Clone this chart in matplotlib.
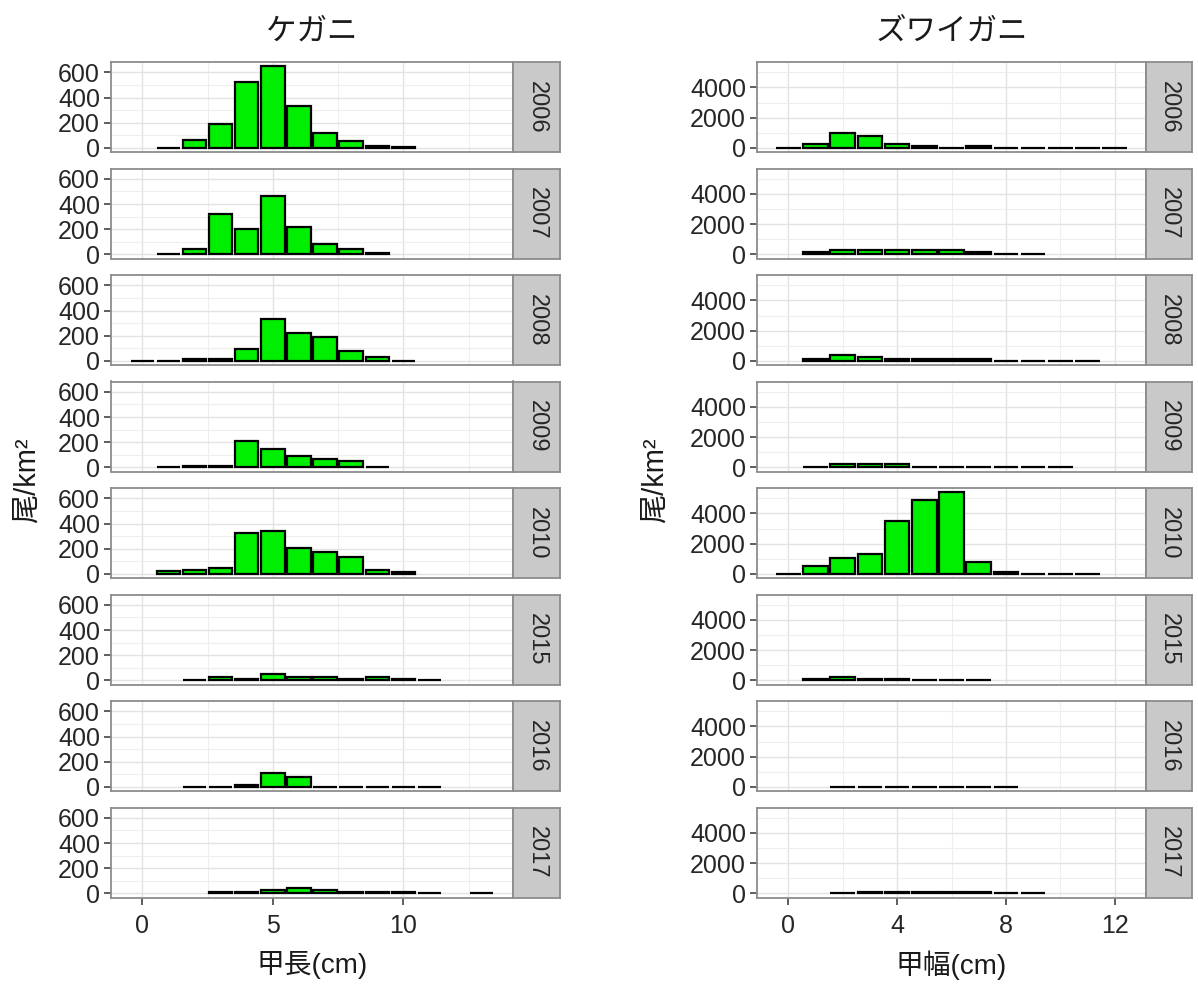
import matplotlib
matplotlib.use("Agg")
import matplotlib.pyplot as plt

# font list: Liberation for digits/latin, Noto CJK for the Japanese
plt.rcParams['font.family'] = ['Liberation Sans', 'Noto Sans CJK JP']

years = ['2006', '2007', '2008', '2009', '2010', '2015', '2016', '2017']

# ケガニ: 甲長 classes 0..13 cm, density per km2 (None = no bar)
kegani_sizes = list(range(14))
kegani = [
    [None, 2, 65, 191, 521, 650, 333, 115, 52, 18, 4, None, None, None],   # 2006
    [None, 2, 46, 324, 201, 466, 214, 80, 46, 15, None, None, None, None],  # 2007
    [1, 1, 12, 12, 97, 331, 222, 193, 81, 34, 2, None, None, None],         # 2008
    [None, 2, 15, 15, 207, 144, 94, 66, 50, 2, None, None, None, None],     # 2009
    [None, 20, 33, 46, 326, 341, 203, 172, 138, 33, 18, None, None, None],  # 2010
    [None, None, 3, 31, 13, 50, 31, 31, 13, 31, 13, 2, None, None],         # 2015
    [None, None, 1, 1, 16, 110, 79, 1, 1, 1, 1, 1, None, None],             # 2016
    [None, None, None, 15, 15, 31, 46, 31, 13, 13, 13, 2, None, 2],         # 2017
]

# ズワイガニ: 甲幅 classes 0..12 cm
zuwai_sizes = list(range(13))
zuwai = [
    [10, 290, 955, 800, 290, 155, 10, 155, 10, 10, 10, 10, 10],             # 2006
    [None, 130, 260, 260, 260, 260, 260, 130, 5, 5, None, None, None],      # 2007
    [None, 128, 385, 257, 128, 128, 128, 128, 5, 5, 5, 5, None],            # 2008
    [None, 5, 222, 222, 222, 5, 5, 5, 5, 5, 5, None, None],                 # 2009
    [5, 556, 1070, 1326, 3508, 4898, 5412, 813, 150, 5, 5, 5, None],        # 2010
    [None, 106, 255, 106, 106, 5, 5, 5, None, None, None, None, None],      # 2015
    [None, None, 5, 5, 5, 5, 5, 5, 5, None, None, None, None],              # 2016
    [None, None, 5, 80, 80, 80, 80, 80, 5, 5, None, None, None],            # 2017
]

W, H = 1198, 985
fig = plt.figure(figsize=(W / 100, H / 100), dpi=100)


def px(x0, y0, w, h):
    return [x0 / W, 1 - (y0 + h) / H, w / W, h / H]


def draw_column(sizes, counts, left, right, strip_w, xticks, xminor,
                yticks, yminor, title, xlabel, ylab_x):
    ymax = max(v for row in counts for v in row if v is not None)
    used = [s for row in counts for s, v in zip(sizes, row) if v is not None]
    lo, hi = min(used) - 0.5, max(used) + 0.5
    xpad = (hi - lo) * 0.05
    for i, year in enumerate(years):
        top = 62 + i * 106.5
        ax = fig.add_axes(px(left, top, right - left, 90))
        xs = [s for s, v in zip(sizes, counts[i]) if v is not None]
        hs = [v for v in counts[i] if v is not None]
        ax.bar(xs, hs, width=0.9, color='#00ee00', edgecolor='black',
               linewidth=1.6, zorder=3)
        ax.set_xlim(lo - xpad, hi + xpad)
        ax.set_ylim(-0.05 * ymax, 1.05 * ymax)
        ax.set_xticks(xticks)
        ax.set_xticks(xminor, minor=True)
        ax.set_yticks(yticks)
        ax.set_yticks(yminor, minor=True)
        ax.grid(True, which='major', color='#e3e3e3', linewidth=1.0, zorder=0)
        ax.grid(True, which='minor', color='#eeeeee', linewidth=0.8, zorder=0)
        ax.set_axisbelow(True)
        for sp in ax.spines.values():
            sp.set_color('#8c8c8c')
            sp.set_linewidth(1.3)
        ax.tick_params(which='minor', length=0)
        ax.tick_params(which='major', length=5, width=1.1, color='#333333',
                       labelsize=18, labelcolor='#262626', pad=3)
        if i < len(years) - 1:
            ax.tick_params(axis='x', length=0, labelbottom=False)
        else:
            ax.tick_params(axis='x', pad=7)
        # facet strip on the right
        sax = fig.add_axes(px(right, top, strip_w, 90))
        sax.set_facecolor('#c9c9c9')
        sax.set_xticks([])
        sax.set_yticks([])
        for sp in sax.spines.values():
            sp.set_color('#8c8c8c')
            sp.set_linewidth(1.3)
        sax.text(0.5, 0.5, year, rotation=-90, ha='center', va='center',
                 fontsize=17, color='#262626', transform=sax.transAxes)
    cx = (left + right) / 2 / W
    fig.text(cx, 1 - 32 / H, title, ha='center', va='center', fontsize=22,
             color='#1a1a1a')
    fig.text(cx, 1 - 965 / H, xlabel, ha='center', va='center', fontsize=20,
             color='#1a1a1a')
    fig.text(ylab_x / W, 1 - 480 / H, '尾/km²', rotation=90, ha='center',
             va='center', fontsize=21, color='#1a1a1a')


draw_column(kegani_sizes, kegani, 111, 513, 47,
            [0, 5, 10], [2.5, 7.5, 12.5],
            [0, 200, 400, 600], [100, 300, 500],
            'ケガニ', '甲長(cm)', 27)
draw_column(zuwai_sizes, zuwai, 757, 1146, 46,
            [0, 4, 8, 12], [2, 6, 10],
            [0, 2000, 4000], [1000, 3000, 5000],
            'ズワイガニ', '甲幅(cm)', 655)

fig.savefig('out.png', dpi=100, facecolor='white')
